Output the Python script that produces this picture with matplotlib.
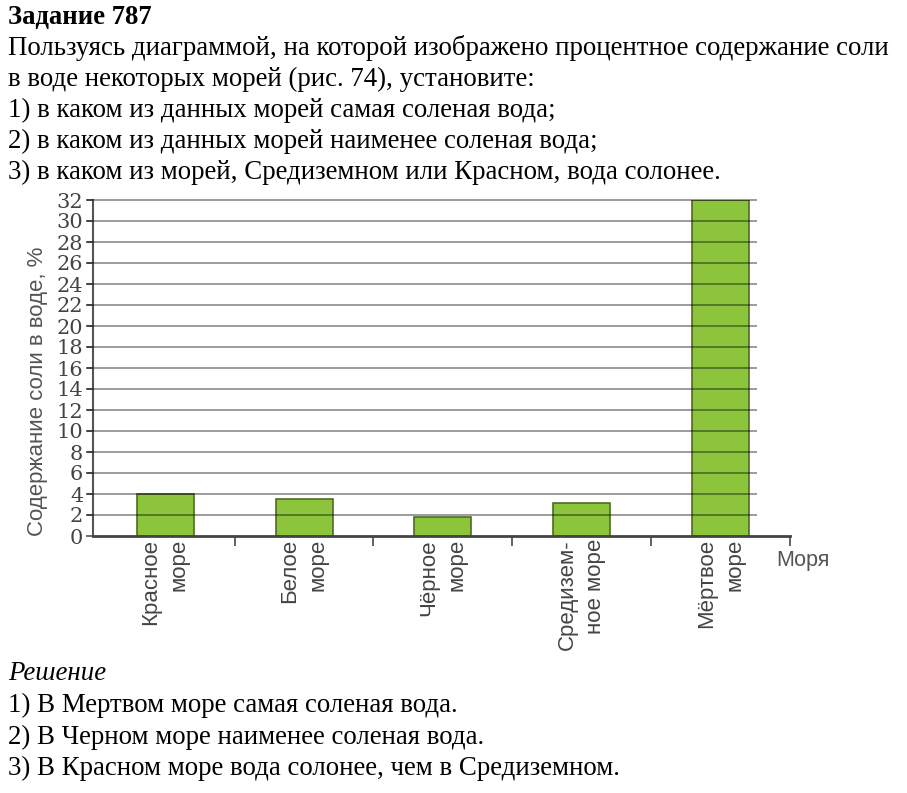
import matplotlib
matplotlib.use('Agg')
import matplotlib.pyplot as plt

# данные диаграммы
seas = ['Красное\nморе', 'Белое\nморе', 'Чёрное\nморе', 'Средизем-\nное море', 'Мёртвое\nморе']
salt = [4.0, 3.5, 1.8, 3.1, 32.0]
yticks = list(range(0, 33, 2))

title = 'Задание 787'
task_lines = [
    'Пользуясь диаграммой, на которой изображено процентное содержание соли',
    'в воде некоторых морей (рис. 74), установите:',
    '1) в каком из данных морей самая соленая вода;',
    '2) в каком из данных морей наименее соленая вода;',
    '3) в каком из морей, Средиземном или Красном, вода солонее.',
]
answer_title = 'Решение'
answer_lines = [
    '1) В Мертвом море самая соленая вода.',
    '2) В Черном море наименее соленая вода.',
    '3) В Красном море вода солонее, чем в Средиземном.',
]

W, H = 907, 793
fig = plt.figure(figsize=(W / 100, H / 100), dpi=100)


def ftext(x, y, s, **kw):
    # координаты в пикселях от левого верхнего угла
    fig.text(x / W, 1 - y / H, s, **kw)


serif = 'Liberation Serif'
ftext(8, 24, title, family=serif, fontsize=19.2, weight='bold', va='baseline')
for i, line in enumerate(task_lines):
    ftext(8, 55 + i * 31, line, family=serif, fontsize=19.4, va='baseline')

ftext(8, 680, answer_title, family=serif, fontsize=19.4, style='italic', va='baseline')
for i, line in enumerate(answer_lines):
    ftext(8, 712 + i * 31.5, line, family=serif, fontsize=19.4, va='baseline')

# оси
left, right = 93, 790
bottom, top = 536, 200
ax = fig.add_axes([left / W, 1 - bottom / H, (right - left) / W, (bottom - top) / H])
x = list(range(len(seas)))
ax.set_xlim(-0.52, 4.5)
ax.set_ylim(0, 32)

ax.bar(x, salt, width=0.41, color='#8cc43c', edgecolor='#4f6b25', linewidth=1.2, zorder=2)
ax.hlines(yticks[1:], -0.56, 4.26, colors='black', alpha=0.42, linewidth=1.3, zorder=3,
          clip_on=False)

for s in ['top', 'right']:
    ax.spines[s].set_visible(False)
ax.spines['left'].set_color('#555555')
ax.spines['bottom'].set_color('#444444')
ax.spines['left'].set_linewidth(1.5)
ax.spines['bottom'].set_linewidth(2)

ax.set_yticks(yticks)
ax.set_yticklabels([str(v) for v in yticks], family='DejaVu Serif', fontsize=15, color='#444444')
ax.tick_params(axis='y', length=5, width=1.2, color='#555555', pad=2)

ax.set_xticks([i + 0.5 for i in x])
ax.set_xticklabels([])
ax.tick_params(axis='x', length=7, width=1.3, color='#555555', direction='in')
for xt in ax.xaxis.get_major_ticks():
    xt.tick1line.set_marker(3)

for i, name in enumerate(seas):
    ax.text(i, -0.3, name, rotation=90, ha='center', va='top', multialignment='right',
            family='Liberation Sans', fontsize=16, color='#444444', linespacing=1.45)

ax.text(4.59, -2.3, 'Моря', ha='center', va='center', family='Liberation Sans',
        fontsize=15.5, color='#555555')

ax.set_ylabel('Содержание соли в воде, %', family='Liberation Sans', fontsize=16,
              color='#555555')
ax.yaxis.set_label_coords(-0.064, 0.43)

plt.savefig('out.png', dpi=100)
